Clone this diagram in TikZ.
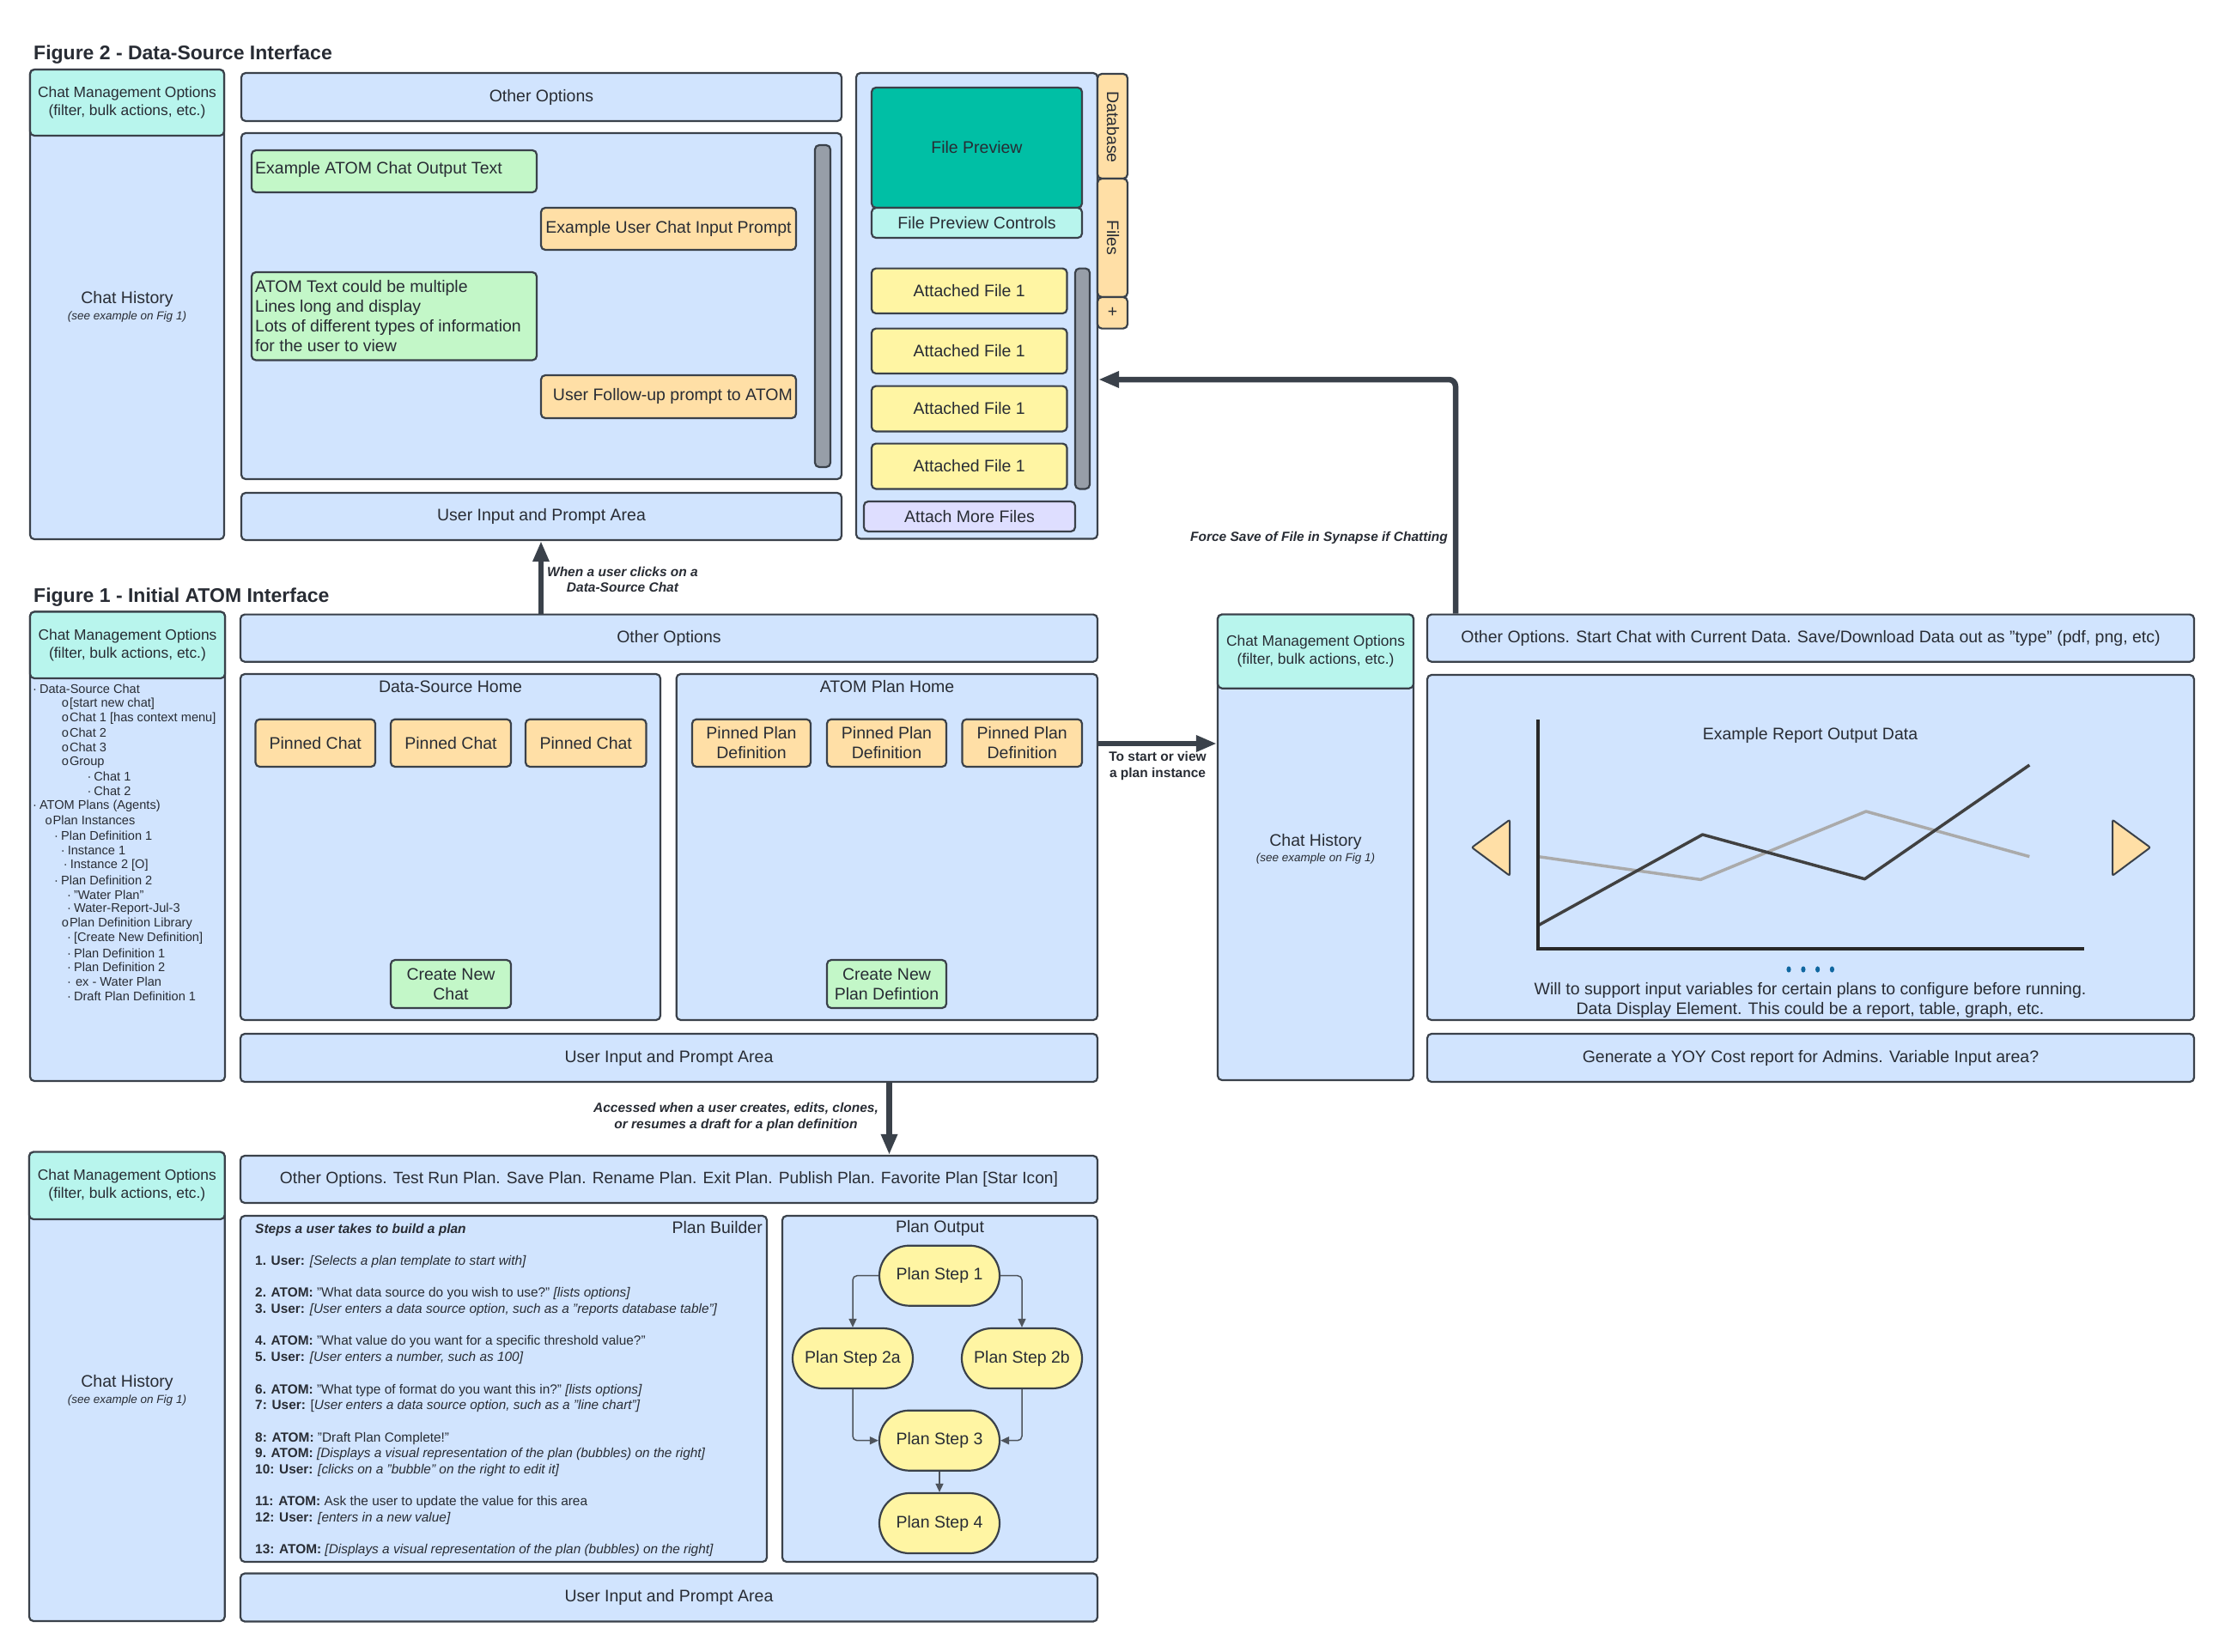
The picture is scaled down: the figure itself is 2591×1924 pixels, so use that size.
\documentclass[tikz,border=0pt]{standalone}
\usepackage{fontspec}
\setmainfont{Liberation Sans}
\usetikzlibrary{arrows.meta}
\definecolor{bd}{RGB}{58,65,74}
\definecolor{lb}{RGB}{209,228,254}
\definecolor{tl}{RGB}{184,245,237}
\definecolor{gr}{RGB}{195,247,200}
\definecolor{orng}{RGB}{255,223,166}
\definecolor{yl}{RGB}{255,245,163}
\definecolor{dteal}{RGB}{0,191,165}
\definecolor{lav}{RGB}{222,222,255}
\definecolor{sbar}{RGB}{151,158,168}
\definecolor{tx}{RGB}{40,44,52}
\definecolor{dotc}{RGB}{16,103,160}
\newcommand\fmain{\fontsize{19.5}{23}\selectfont}
\newcommand\fcm{\fontsize{17.4}{21}\selectfont}
\newcommand\ftree{\fontsize{14.6}{17}\selectfont}
\newcommand\fsub{\fontsize{13.5}{16}\selectfont\itshape}
\newcommand\flab{\fontsize{15.5}{18.5}\selectfont\bfseries\itshape}
\newcommand\fpb{\fontsize{15.4}{18.7}\selectfont}
\newcommand\ftitle{\fontsize{23}{27}\selectfont\bfseries}
\newcommand\mybox[7]{%
 \pgfmathsetmacro\bw{#5-#3}%
 \pgfmathsetmacro\bh{#6-#4}%
 \pgfmathsetmacro\bcx{(#3+#5)/2}%
 \pgfmathsetmacro\bcy{(#4+#6)/2}%
 \node[#2, minimum width=\bw pt, minimum height=\bh pt] (#1) at (\bcx,\bcy) {#7};}
\tikzset{
 box/.style={draw=bd, line width=2.2pt, rounded corners=5pt, inner sep=2pt, text=tx, font=\fmain, align=center},
 bbox/.style={box, fill=lb},
 tbox/.style={box, fill=tl},
 gbox/.style={box, fill=gr},
 obox/.style={box, fill=orng},
 ybox/.style={box, fill=yl},
 dbox/.style={box, fill=dteal},
 lbox/.style={box, fill=lav},
 sbox/.style={box, fill=sbar},
 txt/.style={text=tx, inner sep=0pt, font=\fmain, align=center},
 lab/.style={text=tx, inner sep=0pt, font=\flab, align=center},
 tree/.style={text=tx, inner sep=0pt, font=\ftree, anchor=west},
 pbl/.style={text=tx, inner sep=0pt, font=\fpb, anchor=west},
 bigarrow/.style={draw=bd, line width=6.5pt, -{Triangle[length=24pt,width=18pt]}},
 smallarrow/.style={draw=bd!90, line width=1.5pt, -{Triangle[length=10pt,width=9pt]}, rounded corners=5pt},
 pstep/.style={draw=bd, line width=2.2pt, fill=yl, rounded corners=34.9pt, minimum width=140pt, minimum height=70pt, inner sep=0pt, text=tx, font=\fmain}
}
\begin{document}
\begin{tikzpicture}[x=1pt,y=-1pt]
\fill[white] (0,0) rectangle (2591,1924);
\useasboundingbox (0,0) rectangle (2591,1924);

% ================= Figure 2 =================
\node[txt, font=\ftitle, anchor=west] (f2t) at (39,64) {Figure 2 - Data-Source Interface};
\mybox{ch2}{bbox}{35}{81}{261}{628}{}
\mybox{cm2}{tbox, font=\fcm}{35}{81}{261}{158}{Chat Management Options\\(filter, bulk actions, etc.)}
\node[txt] (ch2a) at (148,348) {Chat History};
\node[txt, font=\fsub] (ch2b) at (148,369) {(see example on Fig 1)};

\mybox{oo2}{bbox}{281}{85}{980}{141}{Other Options}
\mybox{ca2}{bbox}{281}{155}{980}{558}{}
\mybox{e1}{gbox}{293}{175}{625}{224}{}
\node[txt, anchor=west] (e1t) at (297,197) {Example ATOM Chat Output Text};
\mybox{e2}{obox}{630}{242}{927}{291}{Example User Chat Input Prompt}
\mybox{e3}{gbox}{293}{317}{625}{419.5}{}
\node[txt, anchor=west, align=left] (e3t) at (297,368.5) {ATOM Text could be multiple\\Lines long and display\\Lots of different types of information\\for the user to view};
\mybox{e4}{obox}{630}{437}{927}{487}{}
\node[txt, anchor=east] (e4t) at (923,461) {User Follow-up prompt to ATOM};
\mybox{sc2}{sbox}{949}{169}{967}{544}{}
\mybox{ui2}{bbox}{281}{574}{980}{629}{User Input and Prompt Area}

\mybox{rp}{bbox}{997}{85}{1278}{627.5}{}
\mybox{fp}{dbox}{1015}{102}{1260}{242}{File Preview}
\mybox{fpc}{tbox}{1015}{242}{1260}{277}{File Preview Controls}
\mybox{af1}{ybox}{1015}{312.6}{1242.5}{365}{Attached File 1}
\mybox{af2}{ybox}{1015}{382.6}{1242.5}{435}{Attached File 1}
\mybox{af3}{ybox}{1015}{449.6}{1242.5}{502.4}{Attached File 1}
\mybox{af4}{ybox}{1015}{516.6}{1242.5}{569.4}{Attached File 1}
\mybox{sc3}{sbox}{1252}{312.6}{1269}{569.4}{}
\mybox{amf}{lbox}{1006}{584}{1252}{619}{Attach More Files}
\mybox{tb1}{obox}{1278}{86}{1313}{208}{}
\mybox{tb2}{obox}{1278}{208}{1313}{346}{}
\mybox{tb3}{obox}{1278}{346}{1313}{382.6}{+}
\node[txt, rotate=-90] (tb1t) at (1296,148) {Database};
\node[txt, rotate=-90] (tb2t) at (1296,277) {Files};

% ================= Figure 1 =================
\node[txt, font=\ftitle, anchor=west] (f1t) at (39,696) {Figure 1 - Initial ATOM Interface};
\mybox{ch1}{bbox}{35}{712.5}{262}{1259}{}
\mybox{cm1}{tbox, font=\fcm}{35}{712.5}{262}{790}{Chat Management Options\\(filter, bulk actions, etc.)}
\node[tree] (t1) at (38,802.7) {·\hspace{3pt}Data-Source Chat};
\node[tree] (t2) at (71.7,820) {o\hspace{1pt}[start new chat]};
\node[tree] (t3) at (71.7,837) {o\hspace{1pt}Chat 1 [has context menu]};
\node[tree] (t4) at (71.7,853.7) {o\hspace{1pt}Chat 2};
\node[tree] (t5) at (71.7,870.7) {o\hspace{1pt}Chat 3};
\node[tree] (t6) at (71.7,887.7) {o\hspace{1pt}Group};
\node[tree] (t7) at (101.3,904.7) {·\hspace{3pt}Chat 1};
\node[tree] (t8) at (101.3,921.7) {·\hspace{3pt}Chat 2};
\node[tree] (t9) at (38,939) {·\hspace{3pt}ATOM Plans (Agents)};
\node[tree] (t10) at (52.3,955.7) {o\hspace{1pt}Plan Instances};
\node[tree] (t11) at (63,973.3) {·\hspace{3pt}Plan Definition 1};
\node[tree] (t12) at (70.7,990.7) {·\hspace{3pt}Instance 1};
\node[tree] (t13) at (73.7,1008) {·\hspace{3pt}Instance 2 [O]};
\node[tree] (t14) at (63,1025.3) {·\hspace{3pt}Plan Definition 2};
\node[tree] (t15) at (78,1042) {·\hspace{3pt}"Water Plan"};
\node[tree] (t16) at (78,1059) {·\hspace{3pt}Water-Report-Jul-3};
\node[tree] (t17) at (71.7,1076) {o\hspace{1pt}Plan Definition Library};
\node[tree] (t18) at (78,1092.7) {·\hspace{3pt}[Create New Definition]};
\node[tree] (t19) at (78,1110) {·\hspace{3pt}Plan Definition 1};
\node[tree] (t20) at (78,1126.7) {·\hspace{3pt}Plan Definition 2};
\node[tree] (t21) at (78,1143.7) {·\hspace{5pt}ex - Water Plan};
\node[tree] (t22) at (78,1160.7) {·\hspace{3pt}Draft Plan Definition 1};

\mybox{oo1}{bbox}{280}{715.6}{1278}{770.7}{Other Options}
\mybox{dsh}{bbox}{280}{785}{769}{1188}{}
\node[txt] (dsht) at (524.5,800) {Data-Source Home};
\mybox{pc1}{obox}{297.5}{837.7}{437}{893}{Pinned Chat}
\mybox{pc2}{obox}{455}{837.7}{595}{893}{Pinned Chat}
\mybox{pc3}{obox}{612}{837.7}{752.5}{893}{Pinned Chat}
\mybox{cnc}{gbox}{455}{1118}{595}{1174}{Create New\\Chat}
\mybox{aph}{bbox}{787.7}{785}{1278}{1188}{}
\node[txt] (apht) at (1033,800) {ATOM Plan Home};
\mybox{pp1}{obox}{806}{837.7}{944}{893}{Pinned Plan\\Definition}
\mybox{pp2}{obox}{963}{837.7}{1102}{893}{Pinned Plan\\Definition}
\mybox{pp3}{obox}{1120.5}{837.7}{1260}{893}{Pinned Plan\\Definition}
\mybox{cnp}{gbox}{963}{1118}{1102}{1174}{Create New\\Plan Defintion}
\mybox{ui1}{bbox}{280}{1204}{1278}{1260}{User Input and Prompt Area}

% ================= Figure 1 right =================
\mybox{chR}{bbox}{1418}{715.6}{1646}{1258}{}
\mybox{cmR}{tbox, font=\fcm}{1418}{715.6}{1646}{801.7}{Chat Management Options\\(filter, bulk actions, etc.)}
\node[txt] (chRa) at (1532,980) {Chat History};
\node[txt, font=\fsub] (chRb) at (1532,1000) {(see example on Fig 1)};
\mybox{ooR}{bbox}{1662}{715.6}{2555}{770.7}{Other Options. Start Chat with Current Data. Save/Download Data out as "type" (pdf, png, etc)}
\mybox{rep}{bbox}{1662}{786}{2555}{1188}{}
\mybox{gen}{bbox}{1662}{1204}{2555}{1260}{Generate a YOY Cost report for Admins. Variable Input area?}
\node[txt] (rept) at (2108,856) {Example Report Output Data};
\draw[line width=3.5pt, draw={rgb,255:red,170;green,170;blue,170}, line join=round] (1790.8,997.6) -- (1980.4,1024.4) -- (2173,945) -- (2363.3,997.6);
\draw[line width=3.5pt, draw={rgb,255:red,64;green,64;blue,64}, line join=round] (1790.8,1078) -- (1982.6,972) -- (2171.4,1023.7) -- (2363.3,891);
\draw[line width=4pt, draw={rgb,255:red,40;green,40;blue,40}] (1790.8,838) -- (1790.8,1105) -- (2427,1105);
\draw[fill=orng, draw=bd, line width=2pt, rounded corners=2pt] (1713.9,987) -- (1758,954.8) -- (1758,1019.8) -- cycle;
\draw[fill=orng, draw=bd, line width=2pt, rounded corners=2pt] (2504,987) -- (2460,954.8) -- (2460,1019.8) -- cycle;
\foreach \dx in {2083,2099.9,2116.6,2133.4} \fill[dotc] (\dx,1129) ellipse (2.6pt and 3.6pt);
\node[txt] (repl1) at (2108,1153) {Will to support input variables for certain plans to configure before running.};
\node[txt] (repl2) at (2108,1176.5) {Data Display Element. This could be a report, table, graph, etc.};

% ================= Plan builder section =================
\mybox{ch3}{bbox}{34}{1341.6}{261.7}{1888}{}
\mybox{cm3}{tbox, font=\fcm}{34}{1341.6}{261.7}{1420}{Chat Management Options\\(filter, bulk actions, etc.)}
\node[txt] (ch3a) at (148,1610) {Chat History};
\node[txt, font=\fsub] (ch3b) at (148,1631) {(see example on Fig 1)};
\mybox{oo3}{bbox, font=\fontsize{19.2}{23}\selectfont}{280}{1346}{1278}{1401}{Other Options. Test Run Plan. Save Plan. Rename Plan. Exit Plan. Publish Plan. Favorite Plan [Star Icon]}
\mybox{pb}{bbox}{280}{1416}{893}{1819}{}
\node[txt, anchor=east] (pbt) at (888,1430) {Plan Builder};
\node[pbl, font=\flab] (pb0) at (297,1432.4) {Steps a user takes to build a plan};
\node[pbl] (pb1) at (297,1469.7) {\textbf{1. User:} \textit{[Selects a plan template to start with]}};
\node[pbl] (pb2) at (297,1507) {\textbf{2. ATOM:} "What data source do you wish to use?" \textit{[lists options]}};
\node[pbl] (pb3) at (297,1525.7) {\textbf{3. User:} \textit{[User enters a data source option, such as a "reports database table"]}};
\node[pbl] (pb4) at (297,1563) {\textbf{4. ATOM:} "What value do you want for a specific threshold value?"};
\node[pbl] (pb5) at (297,1581.7) {\textbf{5. User:} \textit{[User enters a number, such as 100]}};
\node[pbl] (pb6) at (297,1619) {\textbf{6. ATOM:} "What type of format do you want this in?" \textit{[lists options]}};
\node[pbl] (pb7) at (297,1637.6) {\textbf{7: User:} [\textit{User enters a data source option, such as a "line chart"]}};
\node[pbl] (pb8) at (297,1675) {\textbf{8: ATOM:} "Draft Plan Complete!"};
\node[pbl] (pb9) at (297,1693.6) {\textbf{9. ATOM:} \textit{[Displays a visual representation of the plan (bubbles) on the right]}};
\node[pbl] (pb10) at (297,1712.3) {\textbf{10: User:} \textit{[clicks on a "bubble" on the right to edit it]}};
\node[pbl] (pb11) at (297,1749.6) {\textbf{11: ATOM:} Ask the user to update the value for this area};
\node[pbl] (pb12) at (297,1768.2) {\textbf{12: User:} \textit{[enters in a new value]}};
\node[pbl] (pb13) at (297,1805.6) {\textbf{13: ATOM:} \textit{[Displays a visual representation of the plan (bubbles) on the right]}};

\mybox{po}{bbox}{911}{1416}{1278}{1819}{}
\node[txt] (pot) at (1094.5,1430) {Plan Output};
\node[pstep] (ps1) at (1094,1485.7) {Plan Step 1};
\node[pstep] (ps2a) at (993,1582) {Plan Step 2a};
\node[pstep] (ps2b) at (1190,1582) {Plan Step 2b};
\node[pstep] (ps3) at (1094,1677.7) {Plan Step 3};
\node[pstep] (ps4) at (1094,1774) {Plan Step 4};
\draw[smallarrow] (ps1.west) -| (ps2a.north);
\draw[smallarrow] (ps1.east) -| (ps2b.north);
\draw[smallarrow] (ps2a.south) |- (ps3.west);
\draw[smallarrow] (ps2b.south) |- (ps3.east);
\draw[smallarrow] (ps3.south) -- (ps4.north);
\mybox{ui3}{bbox}{280}{1832.5}{1278}{1888.5}{User Input and Prompt Area}

% ================= big arrows =================
\draw[bigarrow] (oo1.north -| 630,0) -- (ui2.south -| 630,0);
\node[lab] (l1) at (725,675) {When a user clicks on a\\Data-Source Chat};
\draw[bigarrow] (aph.east |- 0,866) -- (chR.west |- 0,866);
\node[lab, font=\fontsize{15.5}{18.5}\selectfont\bfseries] (l2) at (1348,892) {To start or view\\a plan instance};
\coordinate (fsA) at (ooR.north -| 1695,0);
\coordinate (fsB) at (rp.east |- 0,442);
\draw[bigarrow, rounded corners=8pt] (fsA) |- (fsB);
\node[lab, anchor=east] (l3) at (1686,626) {Force Save of File in Synapse if Chatting};
\draw[bigarrow] (ui1.south -| 1035.5,0) -- (oo3.north -| 1035.5,0);
\node[lab] (l4) at (857,1301) {Accessed when a user creates, edits, clones,\\or resumes a draft for a plan definition};
\end{tikzpicture}
\end{document}
